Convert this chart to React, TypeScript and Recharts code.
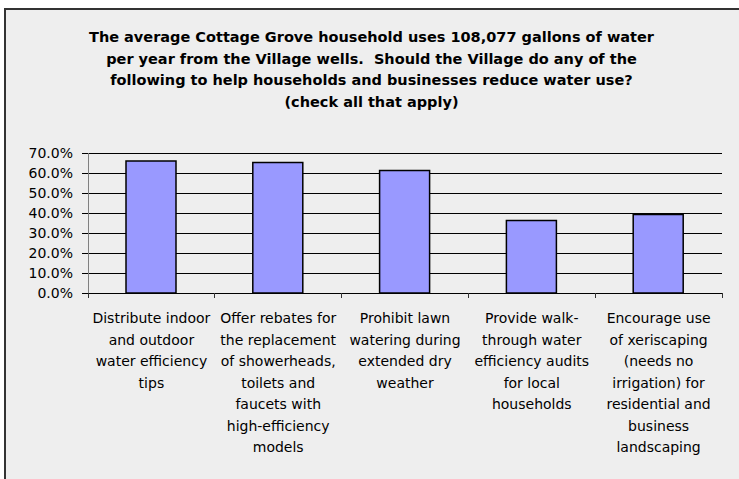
import { Bar, CartesianGrid, ComposedChart, Line, XAxis, YAxis } from "recharts";

const titleLines = [
  "The average Cottage Grove household uses 108,077 gallons of water",
  "per year from the Village wells.  Should the Village do any of the",
  "following to help households and businesses reduce water use?",
  "(check all that apply)",
];

const categories = [
  "Distribute indoor and outdoor water efficiency tips",
  "Offer rebates for the replacement of showerheads, toilets and faucets with high-efficiency models",
  "Prohibit lawn watering during extended dry weather",
  "Provide walk-through water efficiency audits for local households",
  "Encourage use of xeriscaping (needs no irrigation) for residential and business landscaping",
];

const categoryLines = [
  ["Distribute indoor", "and outdoor", "water efficiency", "tips"],
  ["Offer rebates for", "the replacement", "of showerheads,", "toilets and", "faucets with", "high-efficiency", "models"],
  ["Prohibit lawn", "watering during", "extended dry", "weather"],
  ["Provide walk-", "through water", "efficiency audits", "for local", "households"],
  ["Encourage use", "of xeriscaping", "(needs no", "irrigation) for", "residential and", "business", "landscaping"],
];

const shares = [0.66, 0.652, 0.612, 0.362, 0.392];

const yTicks = [0, 0.1, 0.2, 0.3, 0.4, 0.5, 0.6, 0.7];
const edgeTicks = [0, 1, 2, 3, 4, 5];

const data = categories.map((name, i) => ({ name, idx: i + 0.5, value: shares[i] }));

const FONT = "'DejaVu Sans', Verdana, sans-serif";

const CategoryTick = (props: any) => {
  const { x, y, payload } = props;
  const lines = categoryLines[payload.index] || [payload.value];
  return (
    <text x={x} y={y} textAnchor="middle" fontSize={14} fontFamily={FONT} fill="#000">
      {lines.map((line, i) => (
        <tspan key={i} x={x} y={y + 24 + i * 21.5}>
          {line}
        </tspan>
      ))}
    </text>
  );
};

const EmptyTick = () => <g />;

const App = () => {
  return (
    <div
      style={{
        position: "absolute",
        left: 0,
        top: 0,
        width: 739,
        height: 479,
        overflow: "hidden",
        background: "#fff",
      }}
    >
      <div
        style={{
          position: "absolute",
          left: 4,
          top: 8,
          width: 760,
          height: 500,
          background: "#eeeeee",
          borderLeft: "2px solid #333",
          borderTop: "2px solid #333",
        }}
      />
      <div
        style={{
          position: "absolute",
          left: 4,
          top: 27,
          width: 735,
          textAlign: "center",
          fontFamily: FONT,
          fontWeight: "bold",
          fontSize: 14.5,
          lineHeight: "21.7px",
          color: "#000",
        }}
      >
        {titleLines.map((l, i) => (
          <div key={i} style={{ whiteSpace: "pre" }}>
            {l}
          </div>
        ))}
      </div>
      <div style={{ position: "absolute", left: 0, top: 0 }}>
        <ComposedChart
          width={739}
          height={479}
          data={data}
          margin={{ top: 153, right: 17, bottom: 0, left: 0 }}
          barSize={50}
        >
          <CartesianGrid vertical={false} stroke="#000" strokeWidth={1} shapeRendering="crispEdges" />
          <XAxis
            xAxisId={0}
            type="number"
            dataKey="idx"
            domain={[0, 5]}
            ticks={edgeTicks}
            allowDataOverflow
            interval={0}
            height={6}
            tick={<EmptyTick />}
            tickSize={5}
            tickMargin={0}
            axisLine={{ stroke: "#000", shapeRendering: "crispEdges" }}
            tickLine={{ stroke: "#333", shapeRendering: "crispEdges" }}
          />
          <XAxis
            xAxisId={1}
            dataKey="name"
            height={180}
            axisLine={false}
            tickLine={false}
            tickSize={0}
            tickMargin={0}
            interval={0}
            tick={<CategoryTick />}
          />
          <YAxis
            width={88}
            domain={[0, 0.7]}
            ticks={yTicks}
            interval={0}
            tickSize={6}
            tickMargin={9}
            axisLine={{ stroke: "#808080", shapeRendering: "crispEdges" }}
            tickLine={{ stroke: "#000", shapeRendering: "crispEdges" }}
            tickFormatter={(v: number) => (v * 100).toFixed(1) + "%"}
            tick={{ fontSize: 14, fill: "#000", fontFamily: FONT }}
          />
          <Bar
            xAxisId={1}
            dataKey="value"
            fill="#9999ff"
            stroke="#000"
            strokeWidth={1.5}
            isAnimationActive={false}
          />
          <Line
            xAxisId={0}
            dataKey="value"
            stroke="none"
            dot={false}
            activeDot={false}
            legendType="none"
            isAnimationActive={false}
          />
        </ComposedChart>
      </div>
    </div>
  );
};

export default App;
